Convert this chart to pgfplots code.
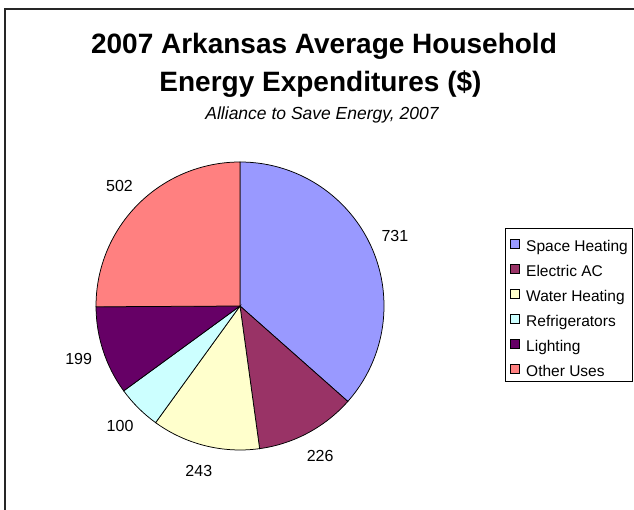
\documentclass[border=0pt]{standalone}
\usepackage{pgfplots}
\pgfplotsset{compat=1.18}
\usepackage{pgfplotstable}
\usepackage{fontspec}
\setmainfont{Liberation Sans}

\definecolor{pie0}{HTML}{9999FF}
\definecolor{pie1}{HTML}{993366}
\definecolor{pie2}{HTML}{FFFFCC}
\definecolor{pie3}{HTML}{CCFFFF}
\definecolor{pie4}{HTML}{660066}
\definecolor{pie5}{HTML}{FF8080}

\pgfplotstableread[col sep=comma,row sep=\\]{
name,val\\
Space Heating,731\\
Electric AC,226\\
Water Heating,243\\
Refrigerators,100\\
Lighting,199\\
Other Uses,502\\
}\piedata

\pgfplotstablegetrowsof{\piedata}
\pgfmathtruncatemacro\pielast{\pgfplotsretval-1}
\def\pietotal{0}
\pgfplotsforeachungrouped \i in {0,...,\pielast}{%
  \pgfplotstablegetelem{\i}{val}\of\piedata
  \pgfmathsetmacro\pietotal{\pietotal+\pgfplotsretval}%
}
\def\piecum{0}
\pgfplotsforeachungrouped \i in {0,...,\pielast}{%
  \pgfplotstablegetelem{\i}{val}\of\piedata
  \let\pieval\pgfplotsretval
  \pgfmathsetmacro\pieS{90-360*(\piecum/\pietotal)}%
  \pgfmathsetmacro\piecum{\piecum+\pieval}%
  \pgfmathsetmacro\pieE{90-360*(\piecum/\pietotal)}%
  \pgfmathsetmacro\pieM{(\pieS+\pieE)/2}%
  \expandafter\xdef\csname pieS\i\endcsname{\pieS}%
  \expandafter\xdef\csname pieE\i\endcsname{\pieE}%
  \expandafter\xdef\csname pieM\i\endcsname{\pieM}%
  \expandafter\xdef\csname pieV\i\endcsname{\pieval}%
  \pgfplotstablegetelem{\i}{name}\of\piedata
  \expandafter\xdef\csname pieN\i\endcsname{\pgfplotsretval}%
}

\begin{document}
\begin{tikzpicture}
\useasboundingbox (0pt,0pt) rectangle (634pt,510pt);
\draw[line width=1.5pt, black!85] (5pt,-20pt) -- (5pt,501pt) -- (660pt,501pt);
\node[anchor=base, inner sep=0pt, font=\fontsize{28}{32}\selectfont\bfseries] at (324pt,456.5pt) {2007 Arkansas Average Household};
\node[anchor=base, inner sep=0pt, font=\fontsize{28}{32}\selectfont\bfseries] at (320.5pt,418pt) {Energy Expenditures (\$)};
\node[anchor=base, inner sep=0pt, font=\fontsize{17.5}{20}\selectfont\itshape] at (322pt,390.5pt) {Alliance to Save Energy, 2007};
\begin{axis}[
  at={(240pt,204pt)}, anchor=center, scale only axis, width=288pt, height=288pt,
  xmin=-1, xmax=1, ymin=-1, ymax=1, hide axis, clip=false,
  legend cell align=left,
  legend image code/.code={\draw[#1] (0pt,-6pt) rectangle (9pt,3pt);},
  legend style={at={(1.4201,0.7708)}, anchor=north west, draw=black, line width=0.8pt, fill=white,
     inner xsep=5pt, inner ysep=1pt, row sep=-0.5pt, column sep=6pt,
     font=\fontsize{15.5}{18}\selectfont,
     nodes={inner sep=0pt, text height=22pt, text depth=3.5pt}},
]
\pgfplotsinvokeforeach{0,...,5}{
  \addlegendimage{fill=pie#1, draw=black, line width=0.8pt}
  \addlegendentry{\csname pieN#1\endcsname}
}
\pgfplotsinvokeforeach{0,...,5}{
  \filldraw[fill=pie#1, draw=black, line width=0.75pt] (axis cs:0,0) -- (axis cs:{cos(\csname pieS#1\endcsname)},{sin(\csname pieS#1\endcsname)}) arc[start angle=\csname pieS#1\endcsname, end angle=\csname pieE#1\endcsname, radius=144pt] -- cycle;
  \node[font=\fontsize{16}{18}\selectfont] at (axis cs:{1.18*cos(\csname pieM#1\endcsname)},{1.18*sin(\csname pieM#1\endcsname)}) {\csname pieV#1\endcsname};
}
\end{axis}
\end{tikzpicture}
\end{document}
